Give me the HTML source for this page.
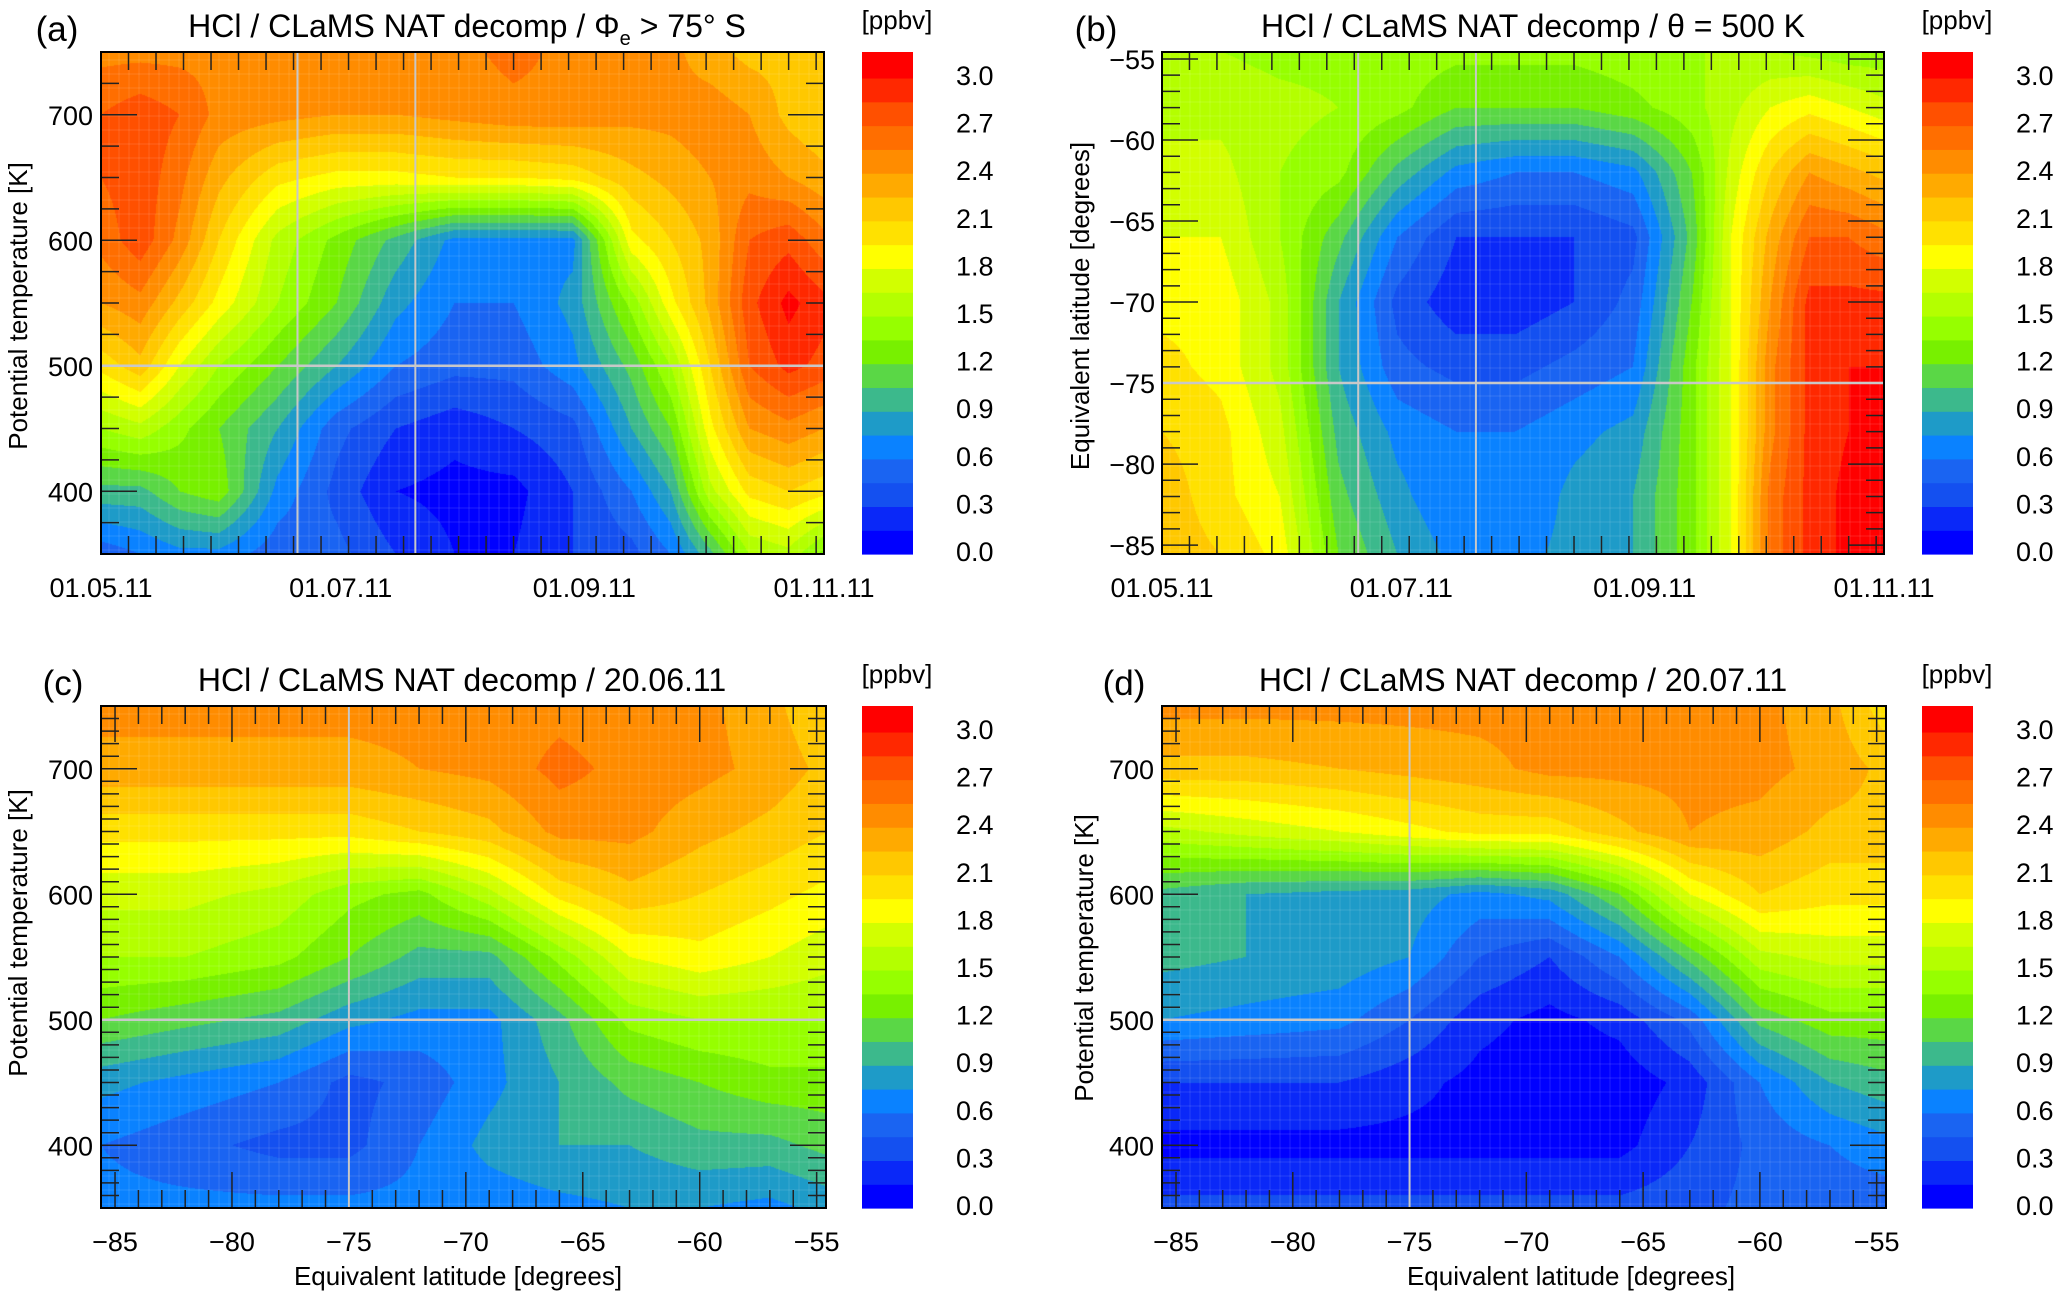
<!DOCTYPE html>
<html><head><meta charset="utf-8">
<style>
html,body{margin:0;padding:0;background:#fff;}
#root{position:relative;width:2067px;height:1297px;overflow:hidden;background:#fff;font-family:"Liberation Sans",sans-serif;}
canvas{position:absolute;}
svg{position:absolute;left:0;top:0;}
</style></head>
<body>
<div id="root">
<canvas id="cva" width="723" height="502" style="left:101px;top:52px"></canvas>
<canvas id="cvb" width="722" height="502" style="left:1162px;top:52px"></canvas>
<canvas id="cvc" width="725" height="502" style="left:101px;top:706px"></canvas>
<canvas id="cvd" width="724" height="502" style="left:1162px;top:706px"></canvas>
<svg id="ov" width="2067" height="1297"></svg>
</div>
<script>
// ---- colour levels ----
const levelStep = 0.15;
const levelColors = ["#0000ff","#0a28f8","#1450f0","#1a64f2","#0a82ff","#1e9bc8","#3cb98c","#5ad746","#78f000","#96ff00","#b4ff00","#d2ff00","#ffff00","#ffe100","#ffc800","#ffaa00","#ff8c00","#ff6e00","#ff5000","#ff2800","#ff0000"];
const cbarTicks = [0.0,0.3,0.6,0.9,1.2,1.5,1.8,2.1,2.4,2.7,3.0];

// ---- panel (a): x = day since 01.05.11, y = theta ----
const aDays = [0,10,20,30,45,60,75,90,105,120,135,145,155,165,175,184];
const aTheta = [350,400,450,500,550,600,650,700,750];
const aVals = [
 [0.5,1.0,1.5,2.0,2.4,2.6,2.7,2.7,2.5],
 [0.6,1.0,1.6,2.2,2.5,2.8,2.8,2.8,2.5],
 [0.7,1.2,1.4,1.8,2.2,2.5,2.6,2.7,2.5],
 [0.7,1.3,1.2,1.5,1.9,2.1,2.3,2.5,2.5],
 [0.5,0.7,0.9,1.2,1.5,1.6,2.0,2.45,2.45],
 [0.5,0.4,0.5,0.9,1.2,1.3,1.9,2.4,2.45],
 [0.3,0.15,0.3,0.6,0.8,1.0,1.9,2.4,2.45],
 [0.15,0.1,0.2,0.5,0.6,0.7,1.95,2.45,2.5],
 [0.15,0.1,0.3,0.5,0.6,0.7,1.95,2.5,2.6],
 [0.3,0.3,0.4,0.7,0.8,0.7,2.0,2.5,2.5],
 [0.4,0.6,0.9,1.1,1.4,1.9,2.2,2.45,2.5],
 [0.6,0.9,1.2,1.5,1.9,2.1,2.3,2.45,2.45],
 [1.0,1.6,1.9,2.1,2.3,2.3,2.4,2.5,2.3],
 [1.5,2.0,2.4,2.7,2.8,2.7,2.5,2.4,2.2],
 [1.6,2.1,2.5,2.9,3.05,2.8,2.4,2.2,2.2],
 [1.3,2.0,2.4,2.8,2.9,2.6,2.3,2.1,2.1]
];

// ---- panel (b): x = day, y = equivalent latitude ----
const bDays = [0,15,30,45,60,75,90,105,120,135,145,155,165,175,184];
const bLat = [-85.6,-82,-78,-74,-70,-66,-62,-58,-54.5];
const bVals = [
 [2.2,2.2,2.1,2.0,1.9,1.8,1.7,1.6,1.5],
 [2.1,2.0,2.0,1.9,1.9,1.8,1.7,1.6,1.5],
 [1.9,1.8,1.7,1.6,1.6,1.5,1.5,1.55,1.45],
 [1.2,1.1,1.0,0.9,0.9,1.1,1.4,1.5,1.45],
 [0.9,0.8,0.7,0.5,0.4,0.6,1.0,1.4,1.45],
 [0.7,0.6,0.6,0.4,0.2,0.3,0.7,1.2,1.4],
 [0.7,0.6,0.6,0.4,0.2,0.3,0.6,1.2,1.4],
 [0.8,0.8,0.7,0.5,0.3,0.3,0.6,1.2,1.4],
 [0.9,0.9,0.8,0.6,0.5,0.4,0.7,1.3,1.45],
 [1.3,1.3,1.3,1.3,1.2,1.1,1.2,1.45,1.5],
 [1.8,1.8,1.8,1.8,1.8,1.8,1.7,1.6,1.5],
 [2.6,2.6,2.5,2.5,2.4,2.3,2.1,1.8,1.5],
 [2.9,2.9,2.9,2.9,2.9,2.7,2.4,1.9,1.45],
 [3.05,3.05,3.0,3.0,2.9,2.7,2.3,1.8,1.4],
 [3.05,3.05,3.0,3.0,2.9,2.6,2.2,1.7,1.4]
];

// ---- panels (c),(d): x = equivalent latitude, y = theta ----
const cdLat = [-85.6,-82,-78,-75,-72,-69,-66,-63,-60,-57,-54.5];
const cdTheta = [350,400,450,500,550,600,650,700,750];
const cVals = [
 [0.65,0.6,0.8,1.2,1.5,1.7,2.0,2.35,2.45],
 [0.65,0.5,0.7,1.1,1.5,1.7,2.0,2.35,2.45],
 [0.65,0.4,0.6,1.0,1.4,1.6,2.0,2.35,2.45],
 [0.65,0.4,0.4,0.8,1.2,1.4,2.0,2.35,2.45],
 [0.65,0.6,0.5,0.7,1.0,1.3,2.1,2.4,2.45],
 [0.65,0.8,0.7,0.7,1.0,1.6,2.2,2.45,2.45],
 [0.7,0.9,0.9,1.0,1.4,2.0,2.45,2.6,2.5],
 [0.75,0.9,1.1,1.4,1.8,2.2,2.45,2.5,2.45],
 [0.75,1.0,1.2,1.5,1.9,2.1,2.3,2.45,2.45],
 [0.7,1.0,1.3,1.5,1.8,2.0,2.2,2.35,2.3],
 [0.8,1.1,1.3,1.5,1.7,1.9,2.1,2.2,2.1]
];
const dVals = [
 [0.35,0.1,0.3,0.75,0.95,1.0,1.6,2.2,2.45],
 [0.35,0.1,0.3,0.7,0.9,0.9,1.7,2.2,2.45],
 [0.35,0.1,0.3,0.65,0.85,0.85,1.8,2.25,2.45],
 [0.35,0.1,0.2,0.45,0.75,0.82,1.9,2.3,2.45],
 [0.35,0.1,0.1,0.2,0.45,0.7,2.0,2.35,2.45],
 [0.35,0.1,0.05,0.1,0.3,0.8,2.0,2.45,2.45],
 [0.35,0.1,0.05,0.2,0.6,1.2,2.2,2.45,2.45],
 [0.4,0.3,0.2,0.5,1.1,1.8,2.4,2.45,2.45],
 [0.5,0.5,0.6,1.1,1.6,2.1,2.35,2.45,2.45],
 [0.5,0.6,0.9,1.3,1.7,2.0,2.2,2.35,2.3],
 [0.5,0.7,1.0,1.3,1.7,2.0,2.2,2.2,2.0]
];

// ---- axis tick labels ----
const dateTickLabels = ["01.05.11","01.07.11","01.09.11","01.11.11"];
const dateTickDays = [0,61,123,184];
const thetaTicks = [400,500,600,700];
const latTicksY = [-85,-80,-75,-70,-65,-60,-55];
const latTicksX = [-85,-80,-75,-70,-65,-60,-55];

function hexRgb(h){return [parseInt(h.substr(1,2),16),parseInt(h.substr(3,2),16),parseInt(h.substr(5,2),16)];}
const rgbLevels = levelColors.map(hexRgb);

function interpIdx(arr, v){
  if (v<=arr[0]) return [0,0];
  for (let i=0;i<arr.length-1;i++){ if (v<=arr[i+1]) return [i,(v-arr[i])/(arr[i+1]-arr[i])]; }
  return [arr.length-2,1];
}
function field(xs, ys, vals, x, y){
  const a=interpIdx(xs,x); const b=interpIdx(ys,y);
  const i=a[0],fx=a[1],j=b[0],fy=b[1];
  const v00=vals[i][j], v10=vals[i+1][j], v01=vals[i][j+1], v11=vals[i+1][j+1];
  return (v00*(1-fx)+v10*fx)*(1-fy)+(v01*(1-fx)+v11*fx)*fy;
}
function drawField(id, xs, ys, vals, x0, x1, y0, y1){
  const cv=document.getElementById(id); const ctx=cv.getContext('2d');
  const W=cv.width,H=cv.height; const img=ctx.createImageData(W,H);
  for (let py=0;py<H;py++){
    const yv = y1 - (py+0.5)/H*(y1-y0);
    for (let px=0;px<W;px++){
      const xv = x0 + (px+0.5)/W*(x1-x0);
      const v=field(xs,ys,vals,xv,yv);
      let k=Math.floor(v/levelStep+1e-9); if(k<0)k=0; if(k>20)k=20;
      const c=rgbLevels[k]; const o=(py*W+px)*4;
      img.data[o]=c[0];img.data[o+1]=c[1];img.data[o+2]=c[2];img.data[o+3]=255;
    }
  }
  ctx.putImageData(img,0,0);
}
drawField('cva', aDays, aTheta, aVals, 0, 184, 350, 750);
drawField('cvb', bDays, bLat, bVals, 0, 184, -85.55, -54.57);
drawField('cvc', cdLat, cdTheta, cVals, -85.6, -54.6, 350, 750);
drawField('cvd', cdLat, cdTheta, dVals, -85.6, -54.6, 350, 750);

// ---- overlay ----
const NS="http://www.w3.org/2000/svg"; const ov=document.getElementById('ov');
function el(tag, attrs, parent){const e=document.createElementNS(NS,tag); for(const k in attrs) e.setAttribute(k,attrs[k]); (parent||ov).appendChild(e); return e;}
function txt(s, attrs, name){const e=el('text',Object.assign({'font-family':'Liberation Sans, sans-serif',fill:'#000'},attrs)); e.textContent=s;
  
  
  return e;}

function panel(p){
  const g=el('g',{});
  
  
  const L=p.L,R=p.R,T=p.T,B=p.B;
  const sx=v=>L+(v-p.x0)/(p.x1-p.x0)*(R-L);
  const sy=v=>B-(v-p.y0)/(p.y1-p.y0)*(B-T);
  for(let x=L+8;x<R;x+=10) el('line',{x1:x,y1:T,x2:x,y2:B,stroke:'#fff','stroke-opacity':0.12,'stroke-width':1},g);
  for(let y=T+8;y<B;y+=14) el('line',{x1:L,y1:y,x2:R,y2:y,stroke:'#fff','stroke-opacity':0.12,'stroke-width':1},g);
  for(let v=p.yMinorStart; v<=p.y1+1e-6; v+=p.yMinor){
    const y=sy(v); if(y<T-0.5||y>B+0.5) continue;
    const major=Math.abs(v/p.yMajor-Math.round(v/p.yMajor))<1e-6;
    const len=major?36:18;
    el('line',{x1:L,y1:y,x2:L+len,y2:y,stroke:'#222','stroke-width':1.5},g);
    el('line',{x1:R,y1:y,x2:R-len,y2:y,stroke:'#222','stroke-width':1.5},g);
  }
  p.xTickVals.forEach(v=>{const x=sx(v); const len=(p.xTickMajor && p.xTickMajor(v))?36:18;
    el('line',{x1:x,y1:T,x2:x,y2:T+len,stroke:'#222','stroke-width':1.5},g);
    el('line',{x1:x,y1:B,x2:x,y2:B-len,stroke:'#222','stroke-width':1.5},g);});
  p.vref.forEach(v=>{const l=el('line',{x1:sx(v),y1:T,x2:sx(v),y2:B,stroke:'#c8c8c8','stroke-width':2},g);
     });
  p.href.forEach(v=>{const l=el('line',{x1:L,y1:sy(v),x2:R,y2:sy(v),stroke:'#c8c8c8','stroke-width':2.5},g);
     });
  const fr=el('rect',{x:L,y:T,width:R-L,height:B-T,fill:'none',stroke:'#000','stroke-width':2},g);
   
  p.yLabels.forEach(v=>txt(p.yFmt(v),{x:p.yLabX,y:sy(v)+10,'font-size':27,'text-anchor':'end'},'y-tick-label'));
  p.xLabels.forEach((s,i)=>txt(s,{x:sx(p.xLabelVals[i]),y:p.xLabY,'font-size':27,'text-anchor':'middle'},'x-tick-label'));
  txt(p.letter,{x:p.letX,y:T-11,'font-size':35,'text-anchor':'middle'},'panel-letter');
  const t=txt('',{x:p.titleX,y:T-15,'font-size':32,'text-anchor':'middle'},'panel-title');
  t.innerHTML=p.title;
  txt(p.ytitle,{x:0,y:0,'font-size':26,'text-anchor':'middle',transform:'translate('+p.ytX+','+p.ytY+') rotate(-90)'},'y-axis-title');
  if(p.xtitle) txt(p.xtitle,{x:p.xtX,y:B+77,'font-size':26,'text-anchor':'middle'},'x-axis-title');
  const CL=p.cbL, CR=p.cbL+51; const binH=(B-T)/21.09;
  el('rect',{x:CL,y:T,width:CR-CL,height:B-T,fill:'#ff0000'},g);
  levelColors.forEach((c,k)=>{const r=el('rect',{x:CL,y:B-(k+1)*binH,width:CR-CL,height:binH+0.6,fill:c},g);
     });
  cbarTicks.forEach(v=>txt(v.toFixed(1),{x:p.cbLabX,y:B-3-v/0.3*binH*2+10,'font-size':27},'colorbar-tick-label'));
  txt('[ppbv]',{x:CL+35,y:T-23,'font-size':26,'text-anchor':'middle'},'colorbar-unit');
}
const weekly=[]; for(let d=0;d<=184;d+=7.0) weekly.push(d);
const latMinor=[]; for(let v=-85;v<=-55;v+=1) latMinor.push(v);
const rowTop1=52,rowBot1=554,rowTop2=706,rowBot2=1208;
const numFmt=v=>String(v);
const negFmt=v=>v<0?'\u2212'+Math.abs(v):String(v);
panel({key:'a',L:101,R:824,T:rowTop1,B:rowBot1,x0:0,x1:184,y0:350,y1:750,vref:[50,80],href:[500],
  yMinor:25,yMajor:100,yMinorStart:350,xTickVals:weekly,yLabels:thetaTicks,yFmt:numFmt,yLabX:93,
  xLabels:dateTickLabels,xLabelVals:dateTickDays,xLabY:597,letter:'(a)',letX:57,titleX:467,
  title:'HCl / CLaMS NAT decomp / Φ<tspan font-size="20" dy="8">e</tspan><tspan dy="-8">  &gt; 75° S</tspan>',
  ytitle:'Potential temperature [K]',ytX:27,ytY:306,cbL:862,cbLabX:956});
panel({key:'b',L:1162,R:1884,T:rowTop1,B:rowBot1,x0:0,x1:184,y0:-85.55,y1:-54.57,vref:[50,80],href:[-75],
  yMinor:1,yMajor:5,yMinorStart:-85,xTickVals:weekly,yLabels:latTicksY,yFmt:negFmt,yLabX:1155,
  xLabels:dateTickLabels,xLabelVals:dateTickDays,xLabY:597,letter:'(b)',letX:1096,titleX:1533,
  title:'HCl / CLaMS NAT decomp / θ = 500 K',
  ytitle:'Equivalent latitude [degrees]',ytX:1089,ytY:306,cbL:1922,cbLabX:2016});
panel({key:'c',L:101,R:826,T:rowTop2,B:rowBot2,x0:-85.6,x1:-54.6,y0:350,y1:750,vref:[-75],href:[500],
  yMinor:10,yMajor:100,yMinorStart:350,xTickVals:latMinor,xTickMajor:v=>v%5===0,yLabels:thetaTicks,yFmt:numFmt,yLabX:93,
  xLabels:latTicksX.map(negFmt),xLabelVals:latTicksX,xLabY:1251,letter:'(c)',letX:63,titleX:462,
  title:'HCl / CLaMS NAT decomp / 20.06.11',ytitle:'Potential temperature [K]',ytX:27,ytY:933,
  xtitle:'Equivalent latitude [degrees]',xtX:458,cbL:862,cbLabX:956});
panel({key:'d',L:1162,R:1886,T:rowTop2,B:rowBot2,x0:-85.6,x1:-54.6,y0:350,y1:750,vref:[-75],href:[500],
  yMinor:10,yMajor:100,yMinorStart:350,xTickVals:latMinor,xTickMajor:v=>v%5===0,yLabels:thetaTicks,yFmt:numFmt,yLabX:1154,
  xLabels:latTicksX.map(negFmt),xLabelVals:latTicksX,xLabY:1251,letter:'(d)',letX:1124,titleX:1523,
  title:'HCl / CLaMS NAT decomp / 20.07.11',ytitle:'Potential temperature [K]',ytX:1093,ytY:958,
  xtitle:'Equivalent latitude [degrees]',xtX:1571,cbL:1922,cbLabX:2016});
</script>
</body></html>
